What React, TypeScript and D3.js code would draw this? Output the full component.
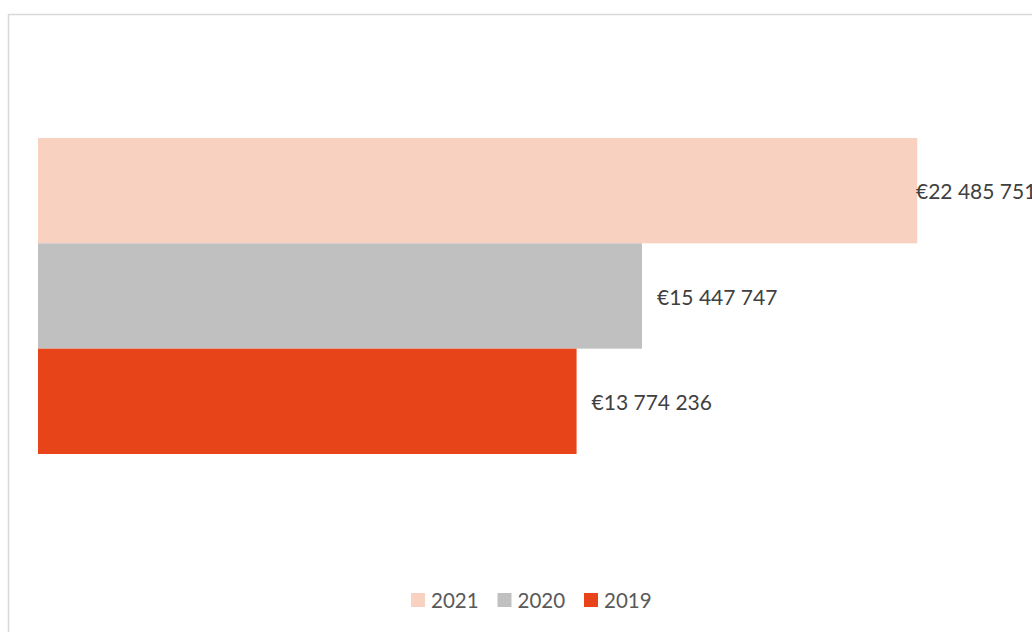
import React from "react";
import * as d3 from "d3";

const categories = ["2021", "2020", "2019"];
const values = [22485751, 15447747, 13774236];
const colors = ["#F9D1C1", "#C0C0C0", "#E8441A"];
const legendOrder = ["2021", "2020", "2019"];

const W = 1032;
const H = 632;

function fmt(v: number): string {
  const s = Math.round(v).toString();
  return "€" + s.replace(/\B(?=(\d{3})+(?!\d))/g, " ");
}

export default function App() {
  const x = d3.scaleLinear().domain([0, 25000000]).range([38, 1015.5]);
  const y = d3.scaleBand().domain(categories).range([138, 454]).padding(0);
  const labelMax = 916;
  const font = "Lato, 'Open Sans', sans-serif";
  const legendX0 = 411;
  const legendStep = 86.5;
  const legendY = 600;

  return (
    <svg
      width={W}
      height={H}
      style={{ position: "absolute", left: 0, top: 0, background: "#fff" }}
    >
      <rect x={0} y={0} width={W} height={H} fill="#fff" />
      <rect
        x={8.5}
        y={14.5}
        width={1200}
        height={800}
        fill="none"
        stroke="#D9D9D9"
        strokeWidth={1.5}
      />
      {categories.map((c, i) => (
        <rect
          key={c}
          x={x(0)}
          y={y(c)!}
          width={x(values[i]) - x(0)}
          height={y.bandwidth()}
          fill={colors[i]}
        />
      ))}
      {categories.map((c, i) => (
        <text
          key={"l" + c}
          x={Math.min(x(values[i]) + 15, labelMax)}
          y={y(c)! + y.bandwidth() / 2}
          dominantBaseline="central"
          fontFamily={font}
          fontSize={21}
          fill="#404040"
        >
          {fmt(values[i])}
        </text>
      ))}
      {legendOrder.map((c, i) => {
        const idx = categories.indexOf(c);
        const lx = legendX0 + i * legendStep;
        return (
          <g key={"lg" + c}>
            <rect x={lx} y={legendY - 7} width={14} height={14} fill={colors[idx]} />
            <text
              x={lx + 20}
              y={legendY}
              dominantBaseline="central"
              fontFamily={font}
              fontSize={20.5}
              fill="#595959"
            >
              {c}
            </text>
          </g>
        );
      })}
    </svg>
  );
}
